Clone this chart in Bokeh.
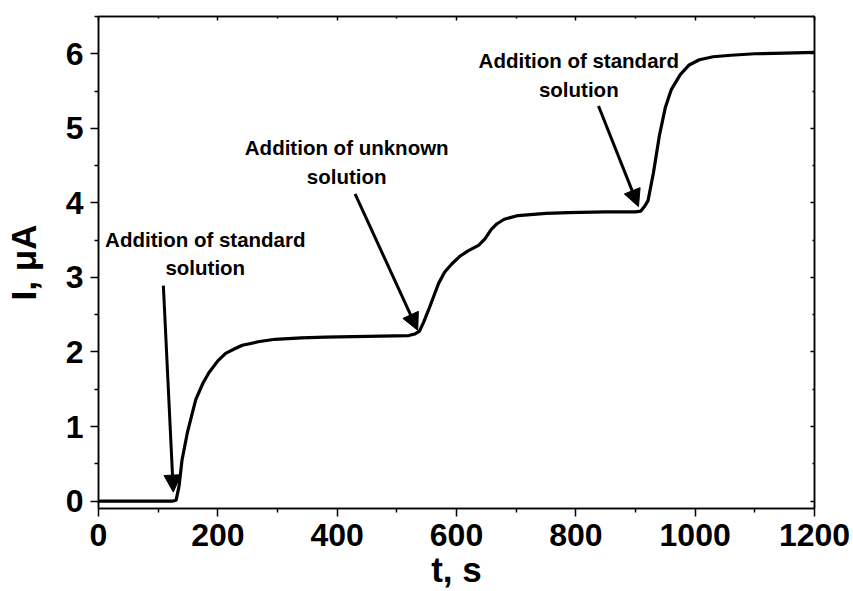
from bokeh.plotting import figure
from bokeh.models import (Arrow, NormalHead, Label, LinearAxis, Range1d,
                          FixedTicker, ColumnDataSource, CustomLabelingPolicy)
from bokeh.embed import file_html
from bokeh.resources import INLINE

# ---- data ----
t_s = [0, 50, 100, 125, 130, 135, 140, 149, 163, 175, 185, 200, 213, 230, 241,
       270, 296, 340, 380, 450, 520, 530, 538, 545, 553, 562, 570, 580, 592,
       605, 620, 637, 648, 658, 668, 680, 703, 750, 787, 850, 900, 909, 915,
       921, 930, 940, 950, 960, 975, 990, 1007, 1030, 1060, 1100, 1150, 1200]
i_uA = [0.00, 0.00, 0.00, 0.00, 0.01, 0.20, 0.55, 0.92, 1.36, 1.58, 1.72, 1.88,
        1.98, 2.05, 2.09, 2.14, 2.17, 2.19, 2.20, 2.21, 2.22, 2.24, 2.28, 2.40,
        2.56, 2.75, 2.92, 3.07, 3.18, 3.28, 3.36, 3.43, 3.52, 3.64, 3.72, 3.78,
        3.83, 3.86, 3.87, 3.88, 3.88, 3.89, 3.95, 4.03, 4.40, 4.90, 5.28, 5.52,
        5.72, 5.85, 5.92, 5.96, 5.98, 6.00, 6.01, 6.02]

x_major = [0, 200, 400, 600, 800, 1000, 1200]
x_minor = [100, 300, 500, 700, 900, 1100]
y_major = [0, 1, 2, 3, 4, 5, 6]
y_minor = [0.5, 1.5, 2.5, 3.5, 4.5, 5.5, 6.5]

ann_text = ["Addition of standard\nsolution",
            "Addition of unknown\nsolution",
            "Addition of standard\nsolution"]
ann_t = [179, 416, 805]
ann_i = [3.32, 4.55, 5.72]

arrow_t0 = [108.7, 430, 838]
arrow_i0 = [2.89, 4.12, 5.30]
arrow_t1 = [125.4, 535, 905]
arrow_i1 = [0.12, 2.29, 3.95]

FONT = "Liberation Sans"

p = figure(width=853, height=591, x_range=Range1d(0, 1200),
           y_range=Range1d(-0.1, 6.5), output_backend="svg",
           toolbar_location=None, min_border_left=96, min_border_right=39,
           min_border_top=15, min_border_bottom=82)
p.xgrid.visible = False
p.ygrid.visible = False
p.outline_line_color = "black"
p.outline_line_width = 1.5
p.background_fill_color = "white"
p.border_fill_color = "white"

p.line(t_s, i_uA, line_width=3.2, color="black")

no_labels = CustomLabelingPolicy(code="""
for (const i of Array.from(indices)) { indices.unset(i) }
return indices
""")


def style_axis(ax, major, minor, labels=True):
    ax.ticker = FixedTicker(ticks=major, minor_ticks=minor)
    ax.axis_line_color = "black"
    ax.axis_line_width = 1.5
    ax.major_tick_line_color = "black"
    ax.minor_tick_line_color = "black"
    ax.major_tick_line_width = 1.5
    ax.minor_tick_line_width = 1.5
    if labels:
        ax.major_tick_out = 8
        ax.major_tick_in = 0
        ax.minor_tick_out = 4
        ax.minor_tick_in = 0
        ax.major_label_text_font = FONT
        ax.major_label_text_font_style = "bold"
        ax.major_label_text_font_size = "32px"
        ax.major_label_text_color = "black"
        ax.axis_label_text_font = FONT
        ax.axis_label_text_font_style = "bold"
        ax.axis_label_text_font_size = "35px"
        ax.axis_label_text_color = "black"
    else:
        ax.major_tick_out = 0
        ax.major_tick_in = 4
        ax.minor_tick_out = 0
        ax.minor_tick_in = 2
        ax.major_label_policy = no_labels


style_axis(p.xaxis[0], x_major, x_minor)
style_axis(p.yaxis[0], y_major, y_minor)
p.xaxis[0].axis_label = "t, s"
p.yaxis[0].axis_label = "I, \u03bcA"
p.xaxis[0].major_label_standoff = 7
p.xaxis[0].axis_label_standoff = 1
p.yaxis[0].major_label_standoff = 7
p.yaxis[0].axis_label_standoff = 20

top = LinearAxis()
style_axis(top, x_major, x_minor, labels=False)
p.add_layout(top, "above")
right = LinearAxis()
style_axis(right, y_major, y_minor, labels=False)
p.add_layout(right, "right")

src = ColumnDataSource(dict(x0=arrow_t0, y0=arrow_i0, x1=arrow_t1, y1=arrow_i1))
p.add_layout(Arrow(end=NormalHead(size=17, fill_color="black", line_color="black",
                                  line_width=1),
                   x_start="x0", y_start="y0", x_end="x1", y_end="y1",
                   source=src, line_width=3, line_color="black"))

for txt, tx, iy in zip(ann_text, ann_t, ann_i):
    p.add_layout(Label(x=tx, y=iy, text=txt, text_font=FONT,
                       text_font_style="bold", text_font_size="20.5px",
                       text_align="center", text_baseline="middle",
                       text_color="black", text_line_height=1.25))

open("out.html", "w").write(file_html(p, INLINE))
